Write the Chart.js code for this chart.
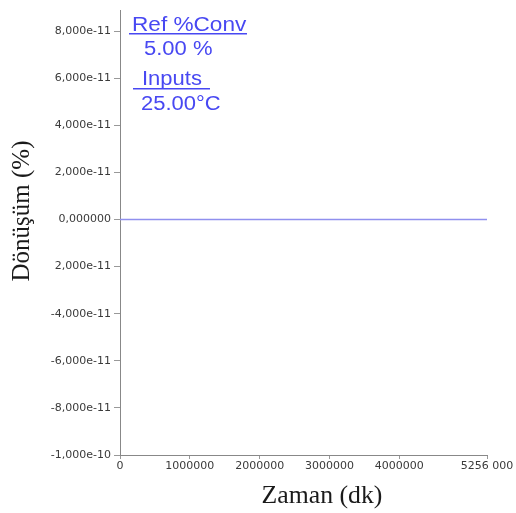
<!DOCTYPE html>
<html>
<head>
<meta charset="utf-8">
<script src="https://cdn.jsdelivr.net/npm/chart.js@4/dist/chart.umd.min.js"></script>
<style>
  html, body { margin: 0; padding: 0; background: #fff; }
  #wrap { width: 516px; height: 513px; position: relative; }
</style>
</head>
<body>
<div id="wrap"><canvas id="chart" width="516" height="513"></canvas></div>
<script>
  // data
  var xTickValues = [0, 1000000, 2000000, 3000000, 4000000, 5256000];
  var xTickLabels = ['0', '1000000', '2000000', '3000000', '4000000', '5256 000'];
  var yTickValues = [-1e-10, -8e-11, -6e-11, -4e-11, -2e-11, 0, 2e-11, 4e-11, 6e-11, 8e-11];
  var yTickLabels = ['-1,000e-10', '-8,000e-11', '-6,000e-11', '-4,000e-11', '2,000e-11',
    '0,000000', '2,000e-11', '4,000e-11', '6,000e-11', '8,000e-11'];
  var timeValues = [0, 5256000];
  var convValues = [0, 0];
  var notes = ['Ref %Conv', '5.00 %', 'Inputs', '25.00°C'];
  var xTitle = 'Zaman (dk)';
  var yTitle = 'Dönüşüm (%)';

  var points = timeValues.map(function (t, i) { return { x: t, y: convValues[i] }; });

  function labelFor(values, labels, v) {
    for (var i = 0; i < values.length; i++) {
      if (Math.abs(values[i] - v) < Math.abs(values[i]) * 1e-6 + 1e-20) return labels[i];
    }
    return '';
  }

  // the source picture is a bit wider than tall, so text gets a small x stretch
  function wideText(ctx, text, x, y, sx) {
    ctx.save();
    ctx.translate(x, y);
    ctx.scale(sx, 1);
    ctx.fillText(text, 0, 0);
    ctx.restore();
  }

  var textPlugin = {
    id: 'texts',
    afterDraw: function (chart) {
      var ctx = chart.ctx;
      ctx.save();
      ctx.fillStyle = '#4848f2';
      ctx.textBaseline = 'alphabetic';
      ctx.textAlign = 'left';
      ctx.font = '20px "Liberation Sans", Arial, sans-serif';
      wideText(ctx, notes[0], 132, 31, 1.13);
      wideText(ctx, notes[1], 144, 55, 1.1);
      wideText(ctx, notes[2], 142, 85, 1.1);
      wideText(ctx, notes[3], 141, 110, 1.1);
      ctx.fillRect(129, 33, 118, 1.5);
      ctx.fillRect(133, 88, 77, 1.5);

      ctx.fillStyle = '#1a1a1a';
      ctx.textAlign = 'center';
      ctx.font = '25px "Liberation Serif", "Times New Roman", serif';
      wideText(ctx, xTitle, 322, 503, 1.03);

      ctx.save();
      ctx.translate(29, 211);
      ctx.rotate(-Math.PI / 2);
      ctx.font = '25px "Liberation Serif", "Times New Roman", serif';
      ctx.fillText(yTitle, 0, 0);
      ctx.restore();
      ctx.restore();
    }
  };

  var tickFont = { family: '"DejaVu Sans", sans-serif', size: 11 };

  new Chart(document.getElementById('chart'), {
    type: 'scatter',
    data: {
      datasets: [{
        data: points,
        showLine: true,
        borderColor: '#9090ee',
        borderWidth: 1.5,
        pointRadius: 0,
        fill: false,
      }],
    },
    options: {
      responsive: false,
      animation: false,
      layout: { padding: { top: 10, right: 29, bottom: 0, left: 0 } },
      plugins: { legend: { display: false }, tooltip: { enabled: false } },
      scales: {
        x: {
          type: 'linear',
          min: 0,
          max: 5256000,
          afterBuildTicks: function (s) { s.ticks = xTickValues.map(function (v) { return { value: v }; }); },
          afterFit: function (s) { s.height = 58; },
          grid: { display: true, drawOnChartArea: false, drawTicks: true, tickLength: 4, color: '#999' },
          border: { display: true, color: '#888', width: 1 },
          ticks: {
            color: '#3a3a3a',
            font: tickFont,
            padding: 1,
            maxRotation: 0,
            autoSkip: false,
            callback: function (v) { return labelFor(xTickValues, xTickLabels, v); },
          },
        },
        y: {
          min: -1e-10,
          max: 8.9e-11,
          afterBuildTicks: function (s) { s.ticks = yTickValues.map(function (v) { return { value: v }; }); },
          afterFit: function (s) { s.width = 120; },
          grid: { display: true, drawOnChartArea: false, drawTicks: true, tickLength: 6, color: '#999' },
          border: { display: true, color: '#888', width: 1 },
          ticks: {
            color: '#3a3a3a',
            font: tickFont,
            padding: 3,
            autoSkip: false,
            callback: function (v) { return labelFor(yTickValues, yTickLabels, v); },
          },
        },
      },
    },
    plugins: [textPlugin],
  });
</script>
</body>
</html>
